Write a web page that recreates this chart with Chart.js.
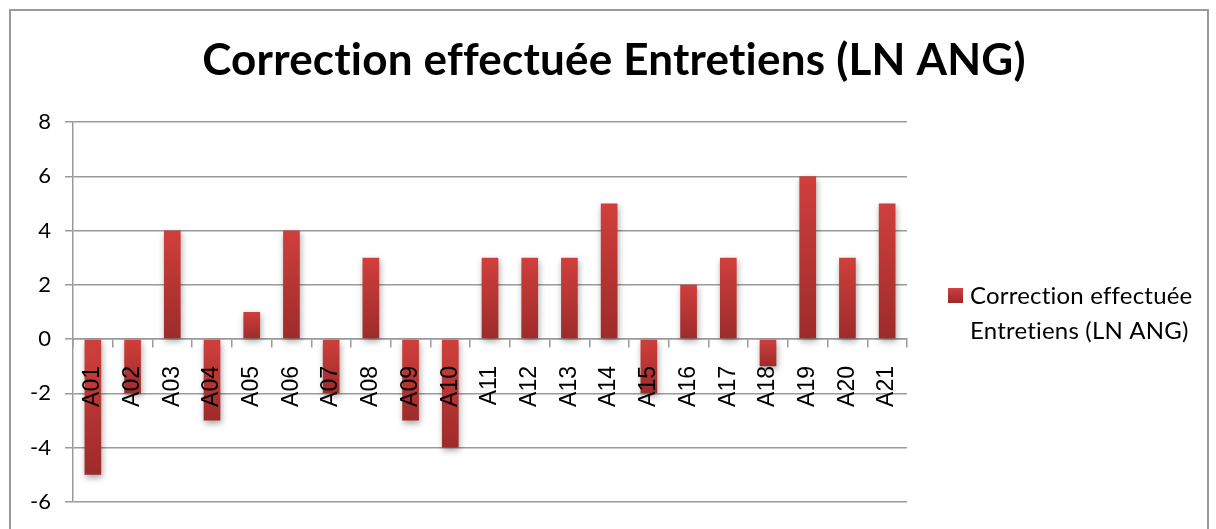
<!DOCTYPE html>
<html>
<head>
<meta charset="utf-8">
<script src="https://cdn.jsdelivr.net/npm/chart.js@4.4.1/dist/chart.umd.min.js"></script>
<style>
  html, body { margin: 0; padding: 0; background: #fff; overflow: hidden; }
  #wrap { position: absolute; left: 0; top: 0; width: 1216px; height: 529px; }
  #frame { position: absolute; left: 9px; top: 9px; width: 1200px; height: 600px;
           border: 2px solid #9a9a9a; box-sizing: border-box; pointer-events: none; }
</style>
</head>
<body>
<div id="wrap"><canvas id="c" width="1216" height="529"></canvas></div>
<div id="frame"></div>
<script>
const categories = ["A01","A02","A03","A04","A05","A06","A07","A08","A09","A10","A11","A12","A13","A14","A15","A16","A17","A18","A19","A20","A21"];
const values = [-5,-2,4,-3,1,4,-2,3,-3,-4,3,3,3,5,-2,2,3,-1,6,3,5];
const seriesName = ["Correction effectuée", "Entretiens (LN ANG)"];
const chartTitle = "Correction effectuée Entretiens (LN ANG)";
const yTicks = [-6,-4,-2,0,2,4,6,8];

const FONT = "Lato, 'Open Sans', sans-serif";
const TOP_COL = "#d03f3c";
const BOT_COL = "#9d2b2a";

function barGradient(ctx) {
  const chart = ctx.chart;
  const y = chart.scales && chart.scales.y;
  if (!chart.chartArea || !y || ctx.raw === undefined) return TOP_COL;
  const p1 = y.getPixelForValue(ctx.raw);
  const p0 = y.getPixelForValue(0);
  const top = Math.min(p0, p1), bot = Math.max(p0, p1);
  if (bot - top < 1) return TOP_COL;
  const g = chart.ctx.createLinearGradient(0, top, 0, bot);
  g.addColorStop(0, TOP_COL);
  g.addColorStop(1, BOT_COL);
  return g;
}

const shadowPlugin = {
  id: 'barShadow',
  beforeDatasetsDraw(chart) {
    const c = chart.ctx;
    c.save();
    c.shadowColor = 'rgba(0,0,0,0.35)';
    c.shadowBlur = 6;
    c.shadowOffsetX = 1;
    c.shadowOffsetY = 3;
  },
  afterDatasetsDraw(chart) { chart.ctx.restore(); }
};

const titlePlugin = {
  id: 'customTitle',
  afterDraw(chart) {
    const c = chart.ctx;
    c.save();
    c.font = "bold 44px " + FONT;
    try { c.letterSpacing = '0.2px'; } catch (e) {}
    c.fillStyle = '#000';
    c.textAlign = 'center';
    c.textBaseline = 'alphabetic';
    c.fillText(chartTitle, 614, 75);
    c.restore();
  }
};

const legendPlugin = {
  id: 'customLegend',
  afterDraw(chart) {
    const c = chart.ctx;
    const area = chart.chartArea;
    const x0 = area.right + 41;
    const yMid = chart.scales.y.getPixelForValue(0) - 44;
    c.save();
    const g = c.createLinearGradient(0, yMid - 7, 0, yMid + 7);
    g.addColorStop(0, TOP_COL); g.addColorStop(1, BOT_COL);
    c.fillStyle = g;
    c.fillRect(x0, yMid - 7, 15, 15);
    c.fillStyle = '#000';
    c.font = "24px " + FONT;
    try { c.letterSpacing = '0.2px'; } catch (e) {}
    c.textBaseline = 'middle';
    c.textAlign = 'left';
    c.fillText(seriesName[0], x0 + 22, yMid + 1);
    c.fillText(seriesName[1], x0 + 22, yMid + 36);
    c.restore();
  }
};

new Chart(document.getElementById('c'), {
  type: 'bar',
  data: {
    labels: categories,
    datasets: [{
      label: seriesName.join(' '),
      data: values,
      backgroundColor: barGradient,
      borderWidth: 0,
      categoryPercentage: 1.0,
      barPercentage: 0.42
    }]
  },
  options: {
    responsive: false,
    animation: false,
    devicePixelRatio: 1,
    layout: { padding: { left: 0, right: 309, top: 122, bottom: 25 } },
    plugins: {
      legend: { display: false },
      tooltip: { enabled: false },
      title: { display: false }
    },
    scales: {
      x: {
        position: { y: 0 },
        offset: true,
        grid: { display: true, drawOnChartArea: false, drawTicks: true, offset: true,
                tickLength: 8, color: '#9a9a9a', lineWidth: 1.5, z: -1 },
        border: { display: true, color: '#9a9a9a', width: 1.5, z: 0 },
        ticks: { z: 1, color: '#000', font: { family: "'Liberation Sans', Arial, sans-serif", size: 23 },
                 minRotation: 90, maxRotation: 90, padding: 19, autoSkip: false }
      },
      y: {
        min: -6, max: 8,
        afterBuildTicks(scale) { scale.ticks = yTicks.map(v => ({ value: v })); },
        afterFit(scale) { scale.width = 73; },
        grid: { color: '#9a9a9a', lineWidth: 1.5, tickLength: 8, drawTicks: true },
        border: { display: true, color: '#9a9a9a', width: 1.5 },
        ticks: { color: '#000', font: { family: FONT, size: 22 }, padding: 14 }
      }
    }
  },
  plugins: [shadowPlugin, titlePlugin, legendPlugin]
});
</script>
</body>
</html>
